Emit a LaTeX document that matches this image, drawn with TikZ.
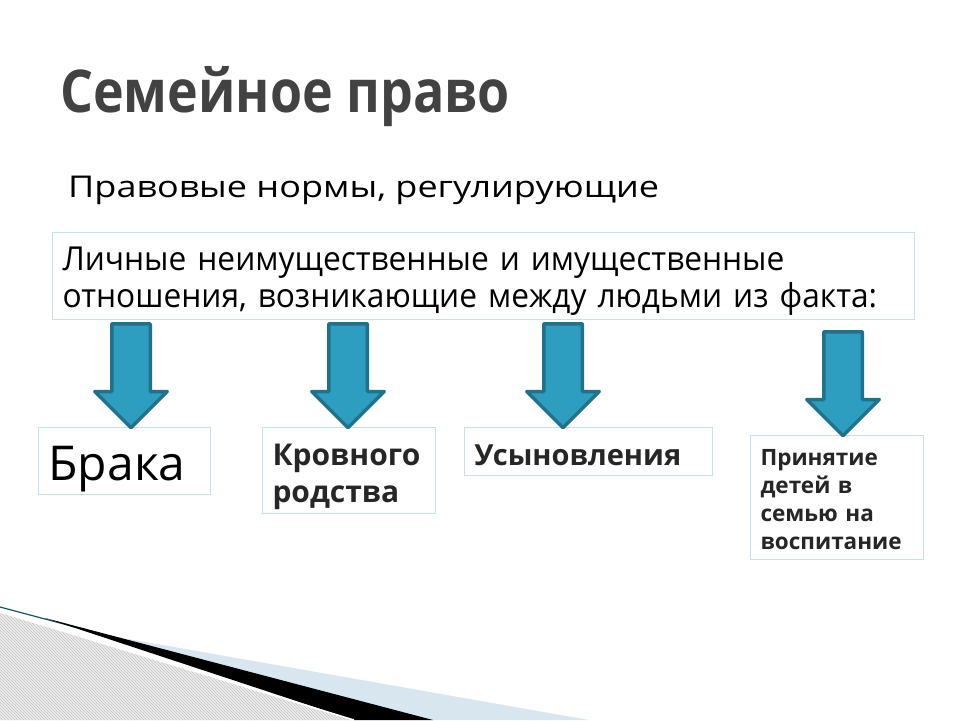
\documentclass[tikz,border=0pt]{standalone}
\usepackage{fontspec}
\setmainfont{Open Sans}
\newfontfamily\narrowfont[FakeStretch=0.96]{Open Sans}
\newfontfamily\titlefont[FakeStretch=0.88]{Open Sans}
\newfontfamily\widefont[FakeStretch=1.2]{Open Sans}
\usetikzlibrary{shapes.arrows,patterns}
\definecolor{arrowfill}{RGB}{46,158,192}
\definecolor{arrowline}{RGB}{31,114,138}
\definecolor{boxline}{RGB}{196,226,234}
\definecolor{titlegray}{RGB}{66,66,66}
\definecolor{lightband}{RGB}{216,231,239}
\definecolor{hatchgray}{RGB}{236,236,236}
\begin{document}
\begin{tikzpicture}[x=1pt,y=-1pt]
        \tikzstyle{box}=[rectangle,draw=boxline,line width=1pt,inner xsep=10pt,inner ysep=0pt,align=left,anchor=north west]
        \tikzstyle{outlined}=[text=black!85]
        \tikzstyle{downarrow}=[single arrow,rotate=-90,anchor=tail,draw=arrowline,fill=arrowfill,line width=3.5pt,line join=round,minimum height=104pt,minimum width=69pt,single arrow head extend=17pt,inner xsep=0pt,inner ysep=17.5pt]

        \useasboundingbox (0,0) rectangle (960,720);

        \begin{scope}
          \fill[lightband] (100,634) -- (589,720) -- (433,720) -- cycle;
          \draw[arrowline!70!black, line width=1.2pt] (0,607) -- (120,639);
          \fill[black] (45,618) -- (433,720) -- (354,720) -- cycle;
          \fill[hatchgray] (0,612) -- (354,720) -- (0,720) -- cycle;
          \fill[pattern=north west lines, pattern color=gray!45] (0,612) -- (354,720) -- (0,720) -- cycle;
          \draw[white, line width=1.5pt] (0,612) -- (354,720);
        \end{scope}

        \node [anchor=base west,inner sep=0pt,text=titlegray,font=\titlefont\fontsize{59}{70}\selectfont\bfseries] (title) at (60,112) {Семейное право};
        \node [anchor=base west,inner sep=0pt,font=\widefont\fontsize{30}{35}\selectfont] (subtitle) at (68,197) {Правовые нормы, регулирующие};

        \node [box,text width=842pt,minimum height=87pt,text height=38pt,text depth=49pt,font=\narrowfont\fontsize{33}{37}\selectfont] (relations) at (52,232) {Личные неимущественные и имущественные\\отношения, возникающие между людьми из факта:};

        \node [box,text width=152pt,minimum height=67pt,text height=53pt,text depth=14pt,font=\fontsize{48}{56}\selectfont] (marriage) at (38,427) {Брака};
        \node [box,outlined,text width=153pt,minimum height=86pt,text height=38pt,text depth=48pt,font=\fontsize{30}{37}\selectfont\bfseries] (kinship) at (262,427) {Кровного\\родства};
        \node [box,outlined,text width=228pt,minimum height=48pt,text height=38pt,text depth=10pt,font=\fontsize{29}{37}\selectfont\bfseries] (adoption) at (464,427) {Усыновления};
        \node [box,outlined,text width=153pt,minimum height=124pt,text height=30pt,text depth=94pt,font=\fontsize{22.5}{28}\selectfont\bfseries] (upbringing) at (750,435) {Принятие\\детей в\\семью на\\воспитание};

        \node [downarrow] (a1) at (131,322) {};
        \node [downarrow] (a2) at (348,322) {};
        \node [downarrow] (a3) at (563,322) {};
        \node [downarrow] (a4) at (843,330) {};
\end{tikzpicture}
\end{document}
